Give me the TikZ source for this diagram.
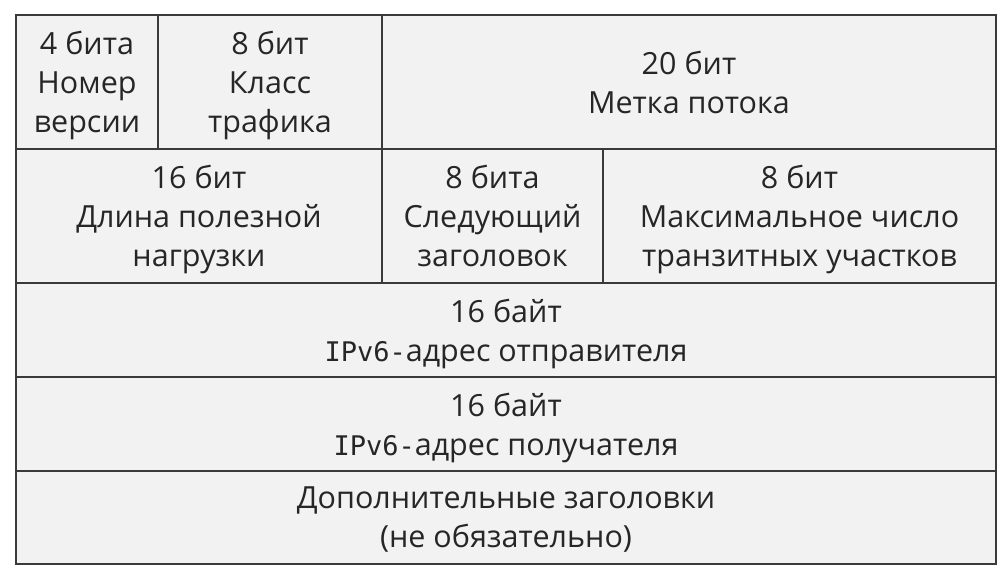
\documentclass[tikz,border=0pt]{standalone}
\usepackage{fontspec}
\setmainfont{Open Sans}
\newfontfamily\monofont{DejaVu Sans Mono}
\usepackage{xcolor}
\usepackage{tikz}
\usetikzlibrary{positioning}
\definecolor{cellfill}{HTML}{F2F2F2}
\definecolor{cellline}{HTML}{3A3A3A}
\definecolor{celltext}{HTML}{262626}
\tikzset{
    cell/.style={rectangle, draw=cellline, fill=cellfill, line width=1.8pt, inner sep=0pt, outer sep=0pt, align=center, text=celltext, font=\fontsize{30.5}{39}\selectfont, text depth=-6pt, anchor=north west},
    toprow/.style={cell, minimum height=134pt},
    midrow/.style={cell, minimum height=134pt},
    wide/.style={cell, minimum width=980pt, minimum height=94pt},
}
\newcommand{\ipsix}{{\fontsize{27}{39}\selectfont\monofont IPv6-}}

\begin{document}
\begin{tikzpicture}[x=1pt, y=-1pt]
    \useasboundingbox (0,0) rectangle (1008,579);

    % First row
    \node[toprow, minimum width=142pt] (version) at (16,15) {4 бита\\Номер\\версии};
    \node[toprow, minimum width=224pt, right=0pt of version] (tclass) {8 бит\\Класс\\трафика};
    \node[toprow, minimum width=614pt, right=0pt of tclass] (flow) {20 бит\\Метка потока};

    % Second row
    \node[midrow, minimum width=366pt] (length) at (version.south west) {16 бит\\Длина полезной\\нагрузки};
    \node[midrow, minimum width=221pt, right=0pt of length] (next) {8 бита\\Следующий\\заголовок};
    \node[midrow, minimum width=393pt, right=0pt of next] (hops) {8 бит\\Максимальное число\\транзитных участков};

    % Addresses
    \node[wide] (src) at (length.south west) {16 байт\\\ipsix адрес отправителя};
    \node[wide] (dst) at (src.south west) {16 байт\\\ipsix адрес получателя};

    % Extension headers
    \node[wide, minimum height=93pt] (ext) at (dst.south west) {Дополнительные заголовки\\(не обязательно)};
\end{tikzpicture}
\end{document}
